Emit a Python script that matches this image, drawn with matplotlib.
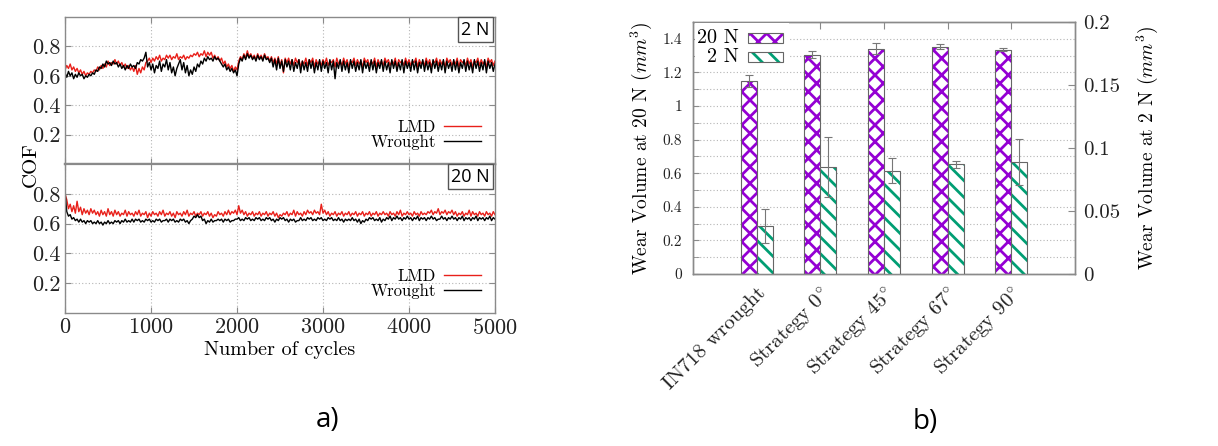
import numpy as np
import matplotlib
matplotlib.use("Agg")
import matplotlib.pyplot as plt
from matplotlib.patches import Rectangle

plt.rcParams['font.family'] = ['cmr10', 'DejaVu Serif']
plt.rcParams['mathtext.fontset'] = 'cm'
plt.rcParams['axes.formatter.use_mathtext'] = True
plt.rcParams['hatch.linewidth'] = 2.0

# ---------------- data: COF time series (every 20 cycles) ----------------
cof_2N_lmd = [
    0.64, 0.67, 0.65, 0.68, 0.64, 0.66, 0.63, 0.65, 0.62, 0.64,
    0.61, 0.63, 0.60, 0.62, 0.61, 0.63, 0.62, 0.64, 0.63, 0.66,
    0.64, 0.67, 0.65, 0.68, 0.66, 0.70, 0.67, 0.69, 0.68, 0.71,
    0.68, 0.70, 0.67, 0.69, 0.66, 0.68, 0.65, 0.67, 0.64, 0.66,
    0.63, 0.67, 0.61, 0.65, 0.62, 0.66, 0.64, 0.69, 0.70, 0.72,
    0.69, 0.72, 0.70, 0.73, 0.71, 0.74, 0.70, 0.72, 0.71, 0.74,
    0.72, 0.74, 0.71, 0.73, 0.72, 0.75, 0.71, 0.73, 0.72, 0.74,
    0.71, 0.73, 0.72, 0.74, 0.73, 0.75, 0.74, 0.76, 0.73, 0.75,
    0.74, 0.77, 0.73, 0.76, 0.74, 0.76, 0.72, 0.74, 0.71, 0.73,
    0.70, 0.72, 0.68, 0.70, 0.66, 0.68, 0.65, 0.67, 0.63, 0.66,
    0.64, 0.70, 0.73, 0.71, 0.75, 0.72, 0.77, 0.73, 0.75, 0.72,
    0.74, 0.71, 0.75, 0.72, 0.74, 0.71, 0.75, 0.72, 0.73, 0.70,
    0.73, 0.69, 0.72, 0.68, 0.73, 0.67, 0.71, 0.62, 0.72, 0.69,
    0.72, 0.68, 0.71, 0.67, 0.72, 0.69, 0.71, 0.66, 0.70, 0.68,
    0.72, 0.67, 0.71, 0.69, 0.72, 0.66, 0.71, 0.68, 0.70, 0.67,
    0.71, 0.68, 0.72, 0.67, 0.70, 0.69, 0.71, 0.66, 0.72, 0.68,
    0.70, 0.67, 0.72, 0.68, 0.71, 0.66, 0.70, 0.69, 0.72, 0.67,
    0.71, 0.68, 0.70, 0.66, 0.72, 0.69, 0.71, 0.67, 0.70, 0.68,
    0.72, 0.66, 0.71, 0.68, 0.70, 0.67, 0.72, 0.69, 0.71, 0.67,
    0.70, 0.68, 0.72, 0.66, 0.71, 0.69, 0.70, 0.67, 0.72, 0.68,
    0.71, 0.67, 0.70, 0.69, 0.72, 0.66, 0.71, 0.68, 0.70, 0.67,
    0.72, 0.68, 0.71, 0.66, 0.70, 0.69, 0.72, 0.67, 0.71, 0.68,
    0.70, 0.66, 0.72, 0.69, 0.71, 0.67, 0.70, 0.68, 0.72, 0.66,
    0.71, 0.69, 0.70, 0.67, 0.72, 0.68, 0.71, 0.66, 0.70, 0.69,
    0.72, 0.67, 0.71, 0.68, 0.70, 0.66, 0.72, 0.69, 0.71, 0.67,
    0.70]
cof_2N_wrought = [
    0.62, 0.59, 0.63, 0.60, 0.62, 0.58, 0.61, 0.59, 0.62, 0.60,
    0.61, 0.58, 0.60, 0.59, 0.61, 0.60, 0.62, 0.61, 0.64, 0.63,
    0.66, 0.65, 0.68, 0.66, 0.70, 0.68, 0.69, 0.67, 0.70, 0.68,
    0.69, 0.66, 0.68, 0.65, 0.67, 0.64, 0.67, 0.65, 0.68, 0.66,
    0.67, 0.65, 0.69, 0.68, 0.71, 0.70, 0.72, 0.76, 0.66, 0.69,
    0.64, 0.68, 0.62, 0.67, 0.65, 0.70, 0.63, 0.68, 0.66, 0.71,
    0.64, 0.69, 0.62, 0.66, 0.60, 0.65, 0.68, 0.71, 0.64, 0.69,
    0.62, 0.67, 0.60, 0.64, 0.61, 0.66, 0.63, 0.68, 0.66, 0.70,
    0.68, 0.72, 0.70, 0.73, 0.71, 0.72, 0.70, 0.73, 0.71, 0.72,
    0.70, 0.68, 0.66, 0.68, 0.64, 0.66, 0.63, 0.65, 0.62, 0.64,
    0.60, 0.68, 0.72, 0.70, 0.74, 0.71, 0.75, 0.72, 0.74, 0.71,
    0.73, 0.70, 0.74, 0.71, 0.73, 0.70, 0.74, 0.71, 0.72, 0.69,
    0.72, 0.66, 0.71, 0.64, 0.72, 0.65, 0.70, 0.63, 0.71, 0.66,
    0.70, 0.64, 0.71, 0.63, 0.69, 0.65, 0.71, 0.62, 0.70, 0.64,
    0.69, 0.63, 0.71, 0.65, 0.70, 0.62, 0.69, 0.64, 0.71, 0.63,
    0.70, 0.65, 0.69, 0.62, 0.71, 0.64, 0.70, 0.58, 0.69, 0.65,
    0.71, 0.63, 0.70, 0.64, 0.69, 0.62, 0.71, 0.65, 0.70, 0.63,
    0.69, 0.64, 0.71, 0.62, 0.70, 0.65, 0.69, 0.63, 0.71, 0.64,
    0.70, 0.62, 0.69, 0.65, 0.71, 0.63, 0.70, 0.64, 0.69, 0.62,
    0.71, 0.65, 0.70, 0.63, 0.69, 0.64, 0.71, 0.62, 0.70, 0.65,
    0.69, 0.63, 0.71, 0.64, 0.70, 0.62, 0.69, 0.65, 0.71, 0.63,
    0.70, 0.64, 0.69, 0.62, 0.71, 0.65, 0.70, 0.63, 0.69, 0.64,
    0.71, 0.62, 0.70, 0.65, 0.69, 0.63, 0.71, 0.64, 0.70, 0.62,
    0.69, 0.65, 0.71, 0.63, 0.70, 0.64, 0.69, 0.62, 0.71, 0.65,
    0.70, 0.63, 0.69, 0.64, 0.71, 0.62, 0.70, 0.65, 0.69, 0.63,
    0.68]
cof_20N_lmd = [
    0.80, 0.76, 0.70, 0.73, 0.68, 0.72, 0.67, 0.75, 0.68, 0.71,
    0.66, 0.70, 0.67, 0.69, 0.66, 0.70, 0.67, 0.69, 0.66, 0.68,
    0.65, 0.69, 0.66, 0.68, 0.65, 0.70, 0.66, 0.68, 0.65, 0.69,
    0.66, 0.68, 0.65, 0.67, 0.66, 0.69, 0.65, 0.68, 0.66, 0.67,
    0.65, 0.68, 0.66, 0.69, 0.65, 0.67, 0.66, 0.68, 0.64, 0.67,
    0.65, 0.68, 0.66, 0.67, 0.65, 0.68, 0.66, 0.69, 0.65, 0.67,
    0.66, 0.68, 0.65, 0.67, 0.64, 0.68, 0.66, 0.67, 0.65, 0.68,
    0.66, 0.69, 0.65, 0.67, 0.66, 0.68, 0.65, 0.67, 0.66, 0.68,
    0.65, 0.67, 0.66, 0.68, 0.65, 0.67, 0.64, 0.66, 0.65, 0.68,
    0.66, 0.67, 0.65, 0.68, 0.66, 0.69, 0.66, 0.68, 0.67, 0.69,
    0.66, 0.72, 0.67, 0.69, 0.66, 0.68, 0.65, 0.67, 0.66, 0.68,
    0.65, 0.67, 0.66, 0.68, 0.65, 0.67, 0.66, 0.68, 0.65, 0.67,
    0.66, 0.68, 0.65, 0.67, 0.64, 0.66, 0.65, 0.67, 0.66, 0.68,
    0.65, 0.67, 0.66, 0.69, 0.65, 0.68, 0.66, 0.67, 0.65, 0.68,
    0.66, 0.69, 0.67, 0.68, 0.66, 0.69, 0.67, 0.68, 0.66, 0.73,
    0.67, 0.69, 0.66, 0.68, 0.65, 0.67, 0.66, 0.68, 0.65, 0.67,
    0.66, 0.68, 0.65, 0.67, 0.66, 0.68, 0.65, 0.67, 0.66, 0.68,
    0.65, 0.67, 0.66, 0.68, 0.65, 0.67, 0.66, 0.68, 0.65, 0.67,
    0.66, 0.68, 0.65, 0.67, 0.66, 0.68, 0.66, 0.67, 0.65, 0.68,
    0.66, 0.67, 0.65, 0.68, 0.66, 0.69, 0.65, 0.67, 0.66, 0.68,
    0.66, 0.67, 0.65, 0.68, 0.66, 0.67, 0.65, 0.68, 0.66, 0.67,
    0.66, 0.68, 0.67, 0.69, 0.66, 0.68, 0.67, 0.70, 0.66, 0.68,
    0.67, 0.69, 0.66, 0.68, 0.67, 0.69, 0.66, 0.68, 0.65, 0.67,
    0.66, 0.68, 0.65, 0.67, 0.66, 0.69, 0.65, 0.68, 0.66, 0.67,
    0.65, 0.68, 0.66, 0.67, 0.65, 0.68, 0.66, 0.67, 0.65, 0.68,
    0.66]
cof_20N_wrought = [
    0.81, 0.68, 0.65, 0.66, 0.63, 0.64, 0.62, 0.63, 0.61, 0.63,
    0.61, 0.62, 0.60, 0.62, 0.61, 0.62, 0.60, 0.61, 0.60, 0.62,
    0.60, 0.61, 0.59, 0.61, 0.60, 0.62, 0.60, 0.61, 0.60, 0.62,
    0.61, 0.62, 0.60, 0.62, 0.61, 0.63, 0.61, 0.62, 0.61, 0.63,
    0.61, 0.63, 0.62, 0.63, 0.61, 0.62, 0.61, 0.63, 0.62, 0.63,
    0.61, 0.62, 0.61, 0.63, 0.62, 0.63, 0.61, 0.62, 0.62, 0.63,
    0.61, 0.63, 0.62, 0.63, 0.61, 0.62, 0.61, 0.63, 0.62, 0.63,
    0.61, 0.62, 0.60, 0.62, 0.63, 0.65, 0.64, 0.66, 0.64, 0.65,
    0.62, 0.63, 0.60, 0.62, 0.61, 0.63, 0.61, 0.62, 0.62, 0.63,
    0.62, 0.63, 0.61, 0.63, 0.62, 0.63, 0.61, 0.62, 0.62, 0.63,
    0.63, 0.64, 0.62, 0.63, 0.62, 0.64, 0.63, 0.64, 0.62, 0.63,
    0.62, 0.64, 0.63, 0.64, 0.62, 0.63, 0.62, 0.64, 0.63, 0.64,
    0.62, 0.63, 0.61, 0.63, 0.62, 0.64, 0.63, 0.64, 0.62, 0.63,
    0.61, 0.63, 0.62, 0.63, 0.61, 0.62, 0.62, 0.64, 0.62, 0.63,
    0.62, 0.64, 0.63, 0.64, 0.62, 0.63, 0.62, 0.64, 0.63, 0.64,
    0.62, 0.63, 0.62, 0.64, 0.63, 0.64, 0.62, 0.63, 0.62, 0.64,
    0.62, 0.63, 0.61, 0.63, 0.62, 0.63, 0.62, 0.64, 0.62, 0.63,
    0.61, 0.63, 0.60, 0.62, 0.61, 0.63, 0.62, 0.64, 0.63, 0.64,
    0.62, 0.63, 0.62, 0.64, 0.61, 0.63, 0.62, 0.64, 0.63, 0.65,
    0.62, 0.64, 0.63, 0.65, 0.63, 0.64, 0.62, 0.64, 0.63, 0.65,
    0.63, 0.64, 0.62, 0.64, 0.63, 0.65, 0.62, 0.64, 0.63, 0.64,
    0.62, 0.64, 0.63, 0.65, 0.63, 0.64, 0.62, 0.63, 0.63, 0.65,
    0.63, 0.64, 0.62, 0.64, 0.63, 0.65, 0.63, 0.64, 0.62, 0.64,
    0.63, 0.65, 0.62, 0.64, 0.63, 0.64, 0.62, 0.64, 0.63, 0.65,
    0.62, 0.64, 0.63, 0.64, 0.62, 0.64, 0.63, 0.65, 0.62, 0.64,
    0.63]
cycles = np.linspace(0, 5000, len(cof_2N_lmd))

# ---------------- data: wear volumes ----------------
categories = ['IN718 wrought', r'Strategy 0$^{\circ}$', r'Strategy 45$^{\circ}$',
              r'Strategy 67$^{\circ}$', r'Strategy 90$^{\circ}$']
wear_20N = [1.15, 1.305, 1.342, 1.354, 1.336]
wear_20N_err = [0.035, 0.02, 0.035, 0.017, 0.008]
wear_2N = [0.038, 0.0847, 0.082, 0.087, 0.0889]
wear_2N_err = [0.0135, 0.024, 0.010, 0.0025, 0.018]

cof_ticks = [0.2, 0.4, 0.6, 0.8]
cof_ticklabels = ['0.2', '0.4', '0.6', '0.8']
cycle_ticks = [0, 1000, 2000, 3000, 4000, 5000]
left_ticks = [0, 0.2, 0.4, 0.6, 0.8, 1.0, 1.2, 1.4]
left_ticklabels = ['0', '0.2', '0.4', '0.6', '0.8', '1', '1.2', '1.4']
right_ticks = [0, 0.05, 0.1, 0.15, 0.2]
right_ticklabels = ['0', '0.05', '0.1', '0.15', '0.2']

SPINE = '#8a8a8a'
GRID = '#b5b5b5'
PURPLE = '#9400d3'
GREEN = '#009e73'
SANS = ['Open Sans', 'DejaVu Sans']

fig = plt.figure(figsize=(12.18, 4.46), dpi=100)

ax1 = fig.add_axes([0.0534, 0.6323, 0.353, 0.3296])
ax2 = fig.add_axes([0.0534, 0.2982, 0.353, 0.3341])

for ax, lmd, wr, lab in [(ax1, cof_2N_lmd, cof_2N_wrought, '2 N'),
                         (ax2, cof_20N_lmd, cof_20N_wrought, '20 N')]:
    ax.plot(cycles, lmd, color='#e8201a', lw=1.0, label='LMD')
    ax.plot(cycles, wr, color='black', lw=1.0, label='Wrought')
    ax.set_xlim(0, 5000)
    ax.set_ylim(0, 1.0)
    ax.set_yticks(cof_ticks)
    ax.set_yticklabels(cof_ticklabels)
    ax.set_xticks(cycle_ticks)
    ax.grid(True, color=GRID, linestyle=(0, (1, 2)), lw=0.8)
    ax.tick_params(direction='in', top=True, right=True, length=4,
                   color=SPINE, labelsize=16, colors='#222222')
    for s in ax.spines.values():
        s.set_color(SPINE)
        s.set_linewidth(1.0)
    ax.legend(loc='lower right', frameon=False, markerfirst=False,
              fontsize=12, handlelength=2.2, labelspacing=0.0,
              borderaxespad=0.45, handletextpad=0.5)
    ax.text(0.988, 0.975, lab, transform=ax.transAxes, ha='right', va='top',
            family=SANS, fontsize=13,
            bbox=dict(boxstyle='square,pad=0.2', fc='white', ec='#555555', lw=1.0))

ax1.tick_params(labelbottom=False)
ax1.spines['bottom'].set_linewidth(1.6)
ax2.spines['top'].set_linewidth(1.6)
ax2.set_xlabel('Number of cycles', fontsize=14.5, labelpad=2)
fig.text(0.025, 0.632, 'COF', rotation=90, ha='center', va='center', fontsize=15)

# ---------------- right panel ----------------
ax3 = fig.add_axes([0.569, 0.3857, 0.3136, 0.565])
axr = ax3.twinx()
x = np.arange(len(categories))
w = 0.25

ax3.bar(x - w / 2, wear_20N, w, color='white', edgecolor=PURPLE, hatch='xx', lw=0, zorder=2)
ax3.bar(x - w / 2, wear_20N, w, fill=False, edgecolor='#666666', lw=0.8, zorder=3)
ax3.errorbar(x - w / 2, wear_20N, yerr=wear_20N_err, fmt='none', ecolor='#777777',
             elinewidth=0.8, capsize=3, capthick=0.8, zorder=4)

axr.bar(x + w / 2, wear_2N, w, color='white', edgecolor=GREEN, hatch='\\\\', lw=0, zorder=2)
axr.bar(x + w / 2, wear_2N, w, fill=False, edgecolor='#666666', lw=0.8, zorder=3)
axr.errorbar(x + w / 2, wear_2N, yerr=wear_2N_err, fmt='none', ecolor='#777777',
             elinewidth=0.8, capsize=3, capthick=0.8, zorder=4)

ax3.set_xlim(-1, 5)
ax3.set_ylim(0, 1.5)
axr.set_ylim(0, 0.2)
ax3.set_yticks(left_ticks)
ax3.set_yticklabels(left_ticklabels)
ax3.set_yticks(np.arange(0.1, 1.5, 0.2), minor=True)
axr.set_yticks(right_ticks)
axr.set_yticklabels(right_ticklabels)
ax3.set_xticks(x)
ax3.set_xticklabels(categories, rotation=45, ha='right', rotation_mode='anchor',
                    fontsize=15)
ax3.grid(True, which='both', axis='y', color=GRID, linestyle=(0, (1, 2)), lw=0.8, zorder=0)
ax3.set_axisbelow(True)
ax3.tick_params(axis='both', which='both', direction='in', top=True, color=SPINE,
                length=4, colors='#222222')
ax3.tick_params(axis='y', labelsize=11, pad=8)
ax3.tick_params(axis='x', pad=7, length=5)
axr.tick_params(axis='y', direction='in', length=5, color=SPINE, labelsize=15,
                colors='#222222', pad=6)
for a in (ax3, axr):
    for s in a.spines.values():
        s.set_color(SPINE)
        s.set_linewidth(1.0)

ax3.set_ylabel(r'Wear Volume at 20 N $(mm^3)$', fontsize=14, labelpad=6)
axr.set_ylabel(r'Wear Volume at 2 N $(mm^3)$', fontsize=14, labelpad=10)

# legend (drawn manually, gnuplot style)
axr.add_patch(Rectangle((0.005, 0.83), 0.245, 0.165, transform=axr.transAxes,
                        fc='white', ec='none', zorder=5))
axr.text(0.120, 0.937, '20 N', transform=axr.transAxes, ha='right', va='center',
         fontsize=14.5, zorder=6)
axr.text(0.120, 0.861, '2 N', transform=axr.transAxes, ha='right', va='center',
         fontsize=14.5, zorder=6)
axr.add_patch(Rectangle((0.144, 0.917), 0.092, 0.040, transform=axr.transAxes,
                        fc='white', ec=PURPLE, hatch='xx', lw=0, zorder=6))
axr.add_patch(Rectangle((0.144, 0.917), 0.092, 0.040, transform=axr.transAxes,
                        fill=False, ec='#666666', lw=0.8, zorder=7))
axr.add_patch(Rectangle((0.144, 0.841), 0.092, 0.040, transform=axr.transAxes,
                        fc='white', ec=GREEN, hatch='\\\\', lw=0, zorder=6))
axr.add_patch(Rectangle((0.144, 0.841), 0.092, 0.040, transform=axr.transAxes,
                        fill=False, ec='#666666', lw=0.8, zorder=7))

fig.text(328 / 1218, 1 - 420 / 446, 'a)', family=SANS, fontsize=20,
         ha='center', va='center')
fig.text(925 / 1218, 1 - 422 / 446, 'b)', family=SANS, fontsize=20,
         ha='center', va='center')

fig.savefig('out.png', dpi=100)
